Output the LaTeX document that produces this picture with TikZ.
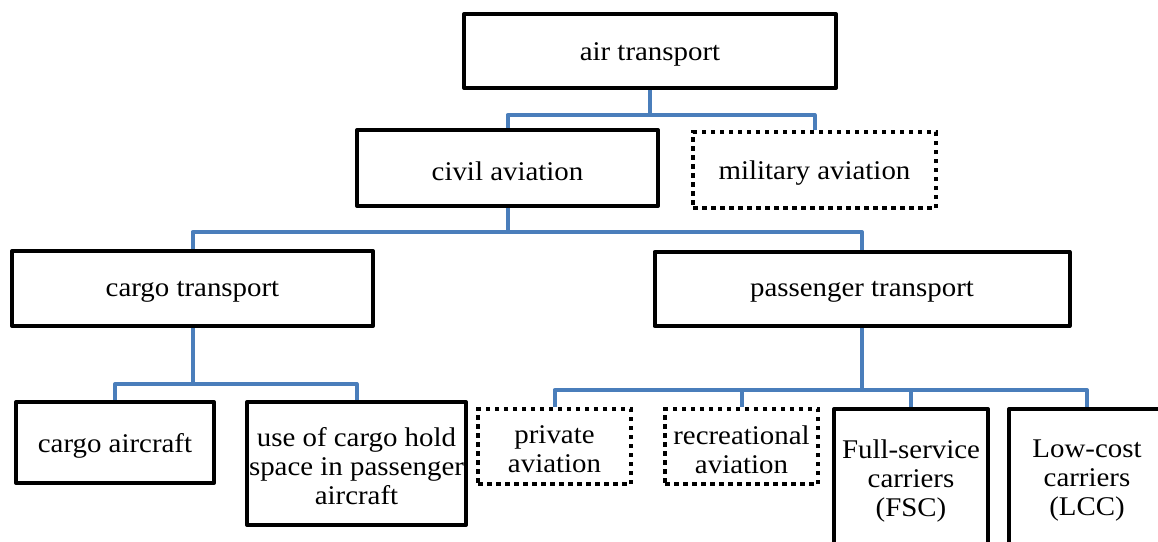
\documentclass[tikz,border=0pt]{standalone}
\usepackage{fontspec}
\setmainfont{Liberation Serif}[FakeStretch=1.07]
\usetikzlibrary{backgrounds}
\definecolor{connblue}{RGB}{74,126,187}
\tikzset{
  txt/.style={align=center, inner sep=0pt, yshift=-3pt, font=\fontsize{27}{29}\selectfont},
  box/.style={draw=black, line width=4pt, fill=white, rectangle, inner sep=0pt,
    line join=round, label={[txt]center:#1}},
  dotbox/.style={box=#1, dash pattern=on 4.5pt off 4.5pt, line join=miter},
  conn/.style={draw=connblue, line width=4pt, line join=round}
}
\begin{document}
\begin{tikzpicture}[x=1pt, y=-1pt]
\useasboundingbox (0,0) rectangle (1158,541);
\clip (0,0) rectangle (1158,541);
% level 0
\node[box={air transport}, minimum width=372pt, minimum height=74pt] (air) at (650,51) {};
% level 1
\node[box={civil aviation}, minimum width=301pt, minimum height=76pt] (civil) at (507.5,168) {};
\node[dotbox={military aviation}, minimum width=243pt, minimum height=76pt] (mil) at (814.5,170) {};
% level 2
\node[box={cargo transport}, minimum width=361pt, minimum height=75pt] (cargo) at (192.5,288.5) {};
\node[box={passenger transport}, minimum width=415pt, minimum height=74pt] (pass) at (862,289) {};
% level 3
\node[box={cargo aircraft}, minimum width=198pt, minimum height=81pt] (ca) at (115,442.5) {};
\node[box={use of cargo hold\\space in passenger\\aircraft}, minimum width=219pt, minimum height=123pt] (use) at (356.5,463.5) {};
\node[dotbox={private\\aviation}, minimum width=153pt, minimum height=75pt] (priv) at (554.5,446.5) {};
\node[dotbox={recreational\\aviation}, minimum width=153pt, minimum height=75pt] (rec) at (741.5,446.5) {};
\node[box={Full-service\\carriers\\(FSC)}, minimum width=154pt, minimum height=137pt] (fsc) at (911,477.5) {};
\node[box={Low-cost\\carriers\\(LCC)}, minimum width=156pt, minimum height=137pt] (lcc) at (1087,477.5) {};
% junctions
\coordinate (j1) at (air.south |- 0,115);
\coordinate (j2) at (civil.south |- 0,232);
\coordinate (j3) at (cargo.south |- 0,384);
\coordinate (j4) at (pass.south |- 0,390);
\begin{scope}[on background layer]
\fill[white] (0,0) rectangle (1158,541);
\draw[conn] (air.south) -- (j1);
\draw[conn] (civil.north) |- (j1) -| (mil.north);
\draw[conn] (civil.south) -- (j2);
\draw[conn] (cargo.north) |- (j2) -| (pass.north);
\draw[conn] (cargo.south) -- (j3);
\draw[conn] (ca.north) |- (j3) -| (use.north);
\draw[conn] (pass.south) -- (j4);
\draw[conn] (priv.north) |- (j4) -| (lcc.north);
\draw[conn] (rec.north) -- (rec.north |- j4);
\draw[conn] (fsc.north) -- (fsc.north |- j4);
\end{scope}
\end{tikzpicture}
\end{document}
